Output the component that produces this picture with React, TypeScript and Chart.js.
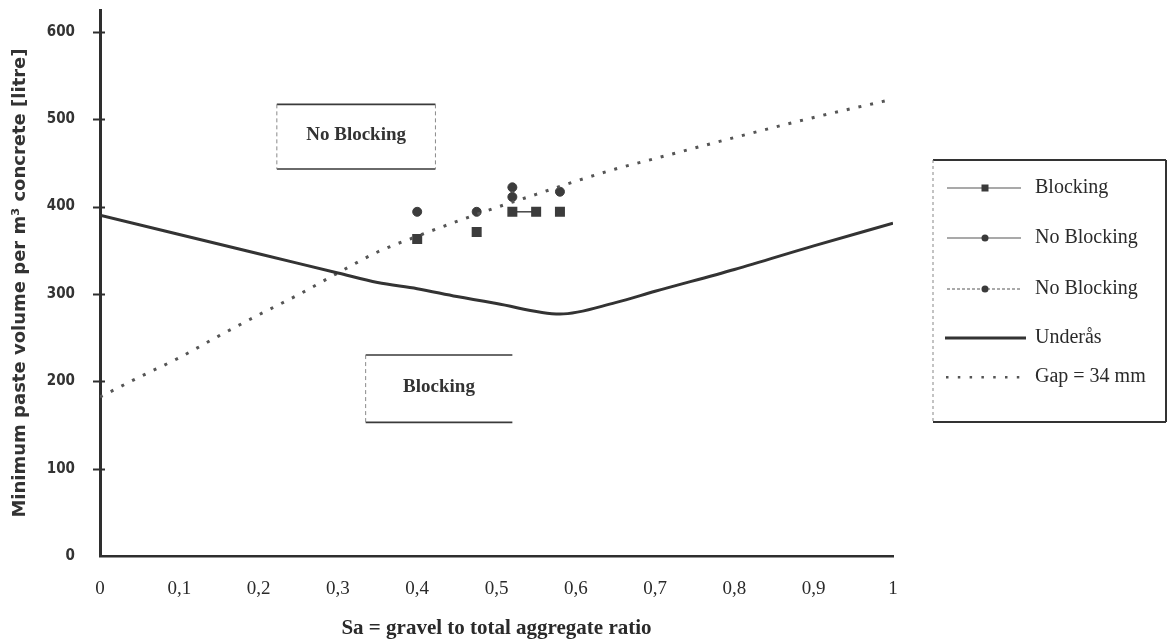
import React, { useEffect, useRef } from "react";
import { Chart, registerables } from "chart.js";

Chart.register(...registerables);

// ---- Axis ticks ----
const xTickValues = [0, 0.1, 0.2, 0.3, 0.4, 0.5, 0.6, 0.7, 0.8, 0.9, 1];
const xTickLabels = ["0", "0,1", "0,2", "0,3", "0,4", "0,5", "0,6", "0,7", "0,8", "0,9", "1"];
const yTickValues = [0, 100, 200, 300, 400, 500, 600];

// ---- Underås curve (solid) ----
const underasX = [0, 0.1, 0.2, 0.3, 0.35, 0.4, 0.45, 0.5, 0.58, 0.65, 0.7, 0.8, 0.9, 1];
const underasY = [390, 368, 346, 324, 313, 306, 297, 289, 277, 290, 303, 328, 355, 381];

// ---- Gap = 34 mm curve (dotted) ----
const gapX = [0, 0.05, 0.1, 0.15, 0.2, 0.25, 0.3, 0.35, 0.4, 0.45, 0.5, 0.55, 0.6, 0.65, 0.7, 0.8, 0.9, 1];
const gapY = [182, 205, 227, 252, 276, 299, 324, 348, 366, 383, 399, 414, 429, 443, 455, 479, 502, 523];

// ---- Test points ----
const blockingX = [0.4, 0.475, 0.52, 0.55, 0.58];
const blockingY = [363, 371, 394, 394, 394];
const noBlocking1X = [0.4, 0.475, 0.52];
const noBlocking1Y = [394, 394, 411];
const noBlocking2X = [0.52, 0.58];
const noBlocking2Y = [422, 417];

// ---- Region labels (data coordinates) ----
const regionLabels = ["No Blocking", "Blocking"];
const regionX0 = [0.223, 0.335];
const regionX1 = [0.423, 0.52];
const regionY0 = [517, 230];
const regionY1 = [443, 153];

// ---- Legend ----
const legendLabels = ["Blocking", "No Blocking", "No Blocking", "Underås", "Gap = 34 mm"];

const INK = "#2e2e2e";
const SERIF = "'Liberation Serif', 'Times New Roman', serif";
const SANS_C = "'DejaVu Sans Condensed', 'DejaVu Sans', sans-serif";
const SANS = "'DejaVu Sans', sans-serif";

const toPts = (xs: number[], ys: number[]) => xs.map((x, i) => ({ x, y: ys[i] }));

const decorPlugin = {
  id: "decor",
  afterDatasetsDraw(chart: any) {
    const { ctx, scales } = chart;
    const xs = scales.x;
    const ys = scales.y;
    ctx.save();

    // crossing tick marks on y axis
    ctx.strokeStyle = INK;
    ctx.lineWidth = 2;
    const ax = xs.getPixelForValue(0);
    yTickValues.forEach((v) => {
      if (v === 0) return;
      const py = Math.round(ys.getPixelForValue(v)) + 0.5;
      ctx.beginPath();
      ctx.moveTo(ax - 7, py);
      ctx.lineTo(ax + 5, py);
      ctx.stroke();
    });

    // region boxes
    regionLabels.forEach((label, i) => {
      const l = xs.getPixelForValue(regionX0[i]);
      const r = xs.getPixelForValue(regionX1[i]);
      const t = ys.getPixelForValue(regionY0[i]);
      const b = ys.getPixelForValue(regionY1[i]);
      ctx.strokeStyle = "#3a3a3a";
      ctx.lineWidth = 1.6;
      ctx.setLineDash([]);
      ctx.beginPath();
      ctx.moveTo(l, t);
      ctx.lineTo(r, t);
      ctx.moveTo(l, b);
      ctx.lineTo(r, b);
      ctx.stroke();
      ctx.strokeStyle = "#8a8a8a";
      ctx.lineWidth = 1;
      ctx.setLineDash([4, 3]);
      ctx.beginPath();
      ctx.moveTo(l, t);
      ctx.lineTo(l, b);
      if (i === 0) {
        ctx.moveTo(r, t);
        ctx.lineTo(r, b);
      }
      ctx.stroke();
      ctx.setLineDash([]);
      ctx.fillStyle = "#333";
      ctx.font = `bold 19px ${SERIF}`;
      ctx.textAlign = "center";
      ctx.textBaseline = "middle";
      ctx.fillText(label, (l + r) / 2, (t + b) / 2 - 2);
    });

    // legend box
    const bx0 = 933, bx1 = 1166, by0 = 160, by1 = 422;
    ctx.strokeStyle = "#333";
    ctx.lineWidth = 2;
    ctx.beginPath();
    ctx.moveTo(bx0, by0);
    ctx.lineTo(bx1, by0);
    ctx.moveTo(bx0, by1);
    ctx.lineTo(bx1, by1);
    ctx.moveTo(bx1, by0);
    ctx.lineTo(bx1, by1);
    ctx.stroke();
    ctx.strokeStyle = "#888";
    ctx.lineWidth = 1;
    ctx.setLineDash([3, 3]);
    ctx.beginPath();
    ctx.moveTo(bx0, by0);
    ctx.lineTo(bx0, by1);
    ctx.stroke();
    ctx.setLineDash([]);

    const rowY = [188, 238, 289, 338, 377];
    const lx0 = 947, lx1 = 1021, mx = 985, tx = 1035;
    legendLabels.forEach((label, i) => {
      const y = rowY[i];
      ctx.strokeStyle = "#555";
      if (i <= 2) {
        ctx.lineWidth = 1.2;
        ctx.setLineDash(i === 2 ? [3, 2] : []);
        ctx.beginPath();
        ctx.moveTo(lx0, y);
        ctx.lineTo(lx1, y);
        ctx.stroke();
        ctx.setLineDash([]);
        ctx.fillStyle = "#3a3a3a";
        if (i === 0) {
          ctx.fillRect(mx - 3.5, y - 3.5, 7, 7);
        } else {
          ctx.beginPath();
          ctx.arc(mx, y, 3.5, 0, Math.PI * 2);
          ctx.fill();
        }
      } else if (i === 3) {
        ctx.strokeStyle = "#333";
        ctx.lineWidth = 3;
        ctx.beginPath();
        ctx.moveTo(lx0 - 2, y);
        ctx.lineTo(lx1 + 5, y);
        ctx.stroke();
      } else {
        ctx.fillStyle = "#555";
        for (let k = 0; k < 7; k++) {
          ctx.fillRect(lx0 + k * 11.8 - 1, y - 1, 2.5, 2.5);
        }
      }
      ctx.fillStyle = "#2a2a2a";
      ctx.font = `20px ${SERIF}`;
      ctx.textAlign = "left";
      ctx.textBaseline = "middle";
      ctx.fillText(label, tx, y);
    });

    ctx.restore();
  },
};

export default function App() {
  const canvasRef = useRef<HTMLCanvasElement | null>(null);

  useEffect(() => {
    const canvas = canvasRef.current;
    if (!canvas) return;
    const chart = new Chart(canvas, {
      type: "scatter",
      data: {
        datasets: [
          {
            label: "Underås",
            data: toPts(underasX, underasY),
            showLine: true,
            borderColor: "#333",
            borderWidth: 3,
            pointRadius: 0,
            cubicInterpolationMode: "monotone",
          },
          {
            label: "Gap = 34 mm",
            data: toPts(gapX, gapY),
            showLine: true,
            borderColor: "#555",
            borderWidth: 3,
            borderDash: [3, 9],
            pointRadius: 0,
            cubicInterpolationMode: "monotone",
          },
          {
            label: "Blocking",
            data: toPts(blockingX, blockingY),
            showLine: true,
            borderColor: "#444",
            borderWidth: 1.5,
            segment: {
              borderColor: (c: any) => (c.p0DataIndex === 2 ? "#444" : "rgba(0,0,0,0)"),
            },
            pointStyle: "rect",
            pointRadius: 6,
            pointBackgroundColor: "#3c3c3c",
            pointBorderColor: "#3c3c3c",
          },
          {
            label: "No Blocking",
            data: toPts(noBlocking1X, noBlocking1Y),
            showLine: false,
            pointStyle: "circle",
            pointRadius: 4.5,
            pointBackgroundColor: "#3c3c3c",
            pointBorderColor: "#3c3c3c",
          },
          {
            label: "No Blocking",
            data: toPts(noBlocking2X, noBlocking2Y),
            showLine: false,
            pointStyle: "circle",
            pointRadius: 4.5,
            pointBackgroundColor: "#3c3c3c",
            pointBorderColor: "#3c3c3c",
          },
        ],
      },
      options: {
        animation: false,
        responsive: false,
        devicePixelRatio: 1,
        layout: { autoPadding: false, padding: { top: 10, right: 275, bottom: 0, left: 0 } },
        plugins: {
          legend: { display: false },
          tooltip: { enabled: false },
        },
        scales: {
          x: {
            type: "linear",
            min: 0,
            max: 1,
            afterBuildTicks: (s: any) => {
              s.ticks = xTickValues.map((v) => ({ value: v }));
            },
            afterFit: (s: any) => {
              s.height = 86;
              s.paddingLeft = 0;
              s.paddingRight = 0;
            },
            grid: { drawOnChartArea: false, drawTicks: false },
            border: { display: true, color: INK, width: 2.5 },
            ticks: {
              padding: 22,
              color: "#2a2a2a",
              font: { family: SERIF, size: 19 },
              maxRotation: 0,
              callback: (value: any) => {
                const idx = xTickValues.findIndex((t) => Math.abs(t - value) < 1e-9);
                return idx >= 0 ? xTickLabels[idx] : "";
              },
            },
            title: {
              display: true,
              text: "Sa = gravel to total aggregate ratio",
              color: "#2a2a2a",
              font: { family: SERIF, size: 21, weight: "bold" },
              padding: { top: 0, bottom: 1 },
            },
          },
          y: {
            type: "linear",
            min: 0,
            max: 625,
            afterBuildTicks: (s: any) => {
              s.ticks = yTickValues.map((v) => ({ value: v }));
            },
            afterFit: (s: any) => {
              s.width = 100;
              s.paddingTop = 0;
              s.paddingBottom = 0;
            },
            grid: { drawOnChartArea: false, drawTicks: false },
            border: { display: true, color: INK, width: 3 },
            ticks: {
              padding: 25,
              color: "#333",
              font: { family: SANS_C, size: 15, weight: "bold" },
            },
            title: {
              display: true,
              text: "Minimum paste volume per m³ concrete [litre]",
              color: "#333",
              font: { family: SANS, size: 18, weight: "bold" },
              padding: { top: 10, bottom: 0 },
            },
          },
        },
      },
      plugins: [decorPlugin],
    });
    return () => chart.destroy();
  }, []);

  return (
    <div style={{ position: "absolute", left: 0, top: 0, width: 1168, height: 642, background: "#fff" }}>
      <canvas ref={canvasRef} width={1168} height={642} style={{ display: "block", width: 1168, height: 642 }} />
    </div>
  );
}
